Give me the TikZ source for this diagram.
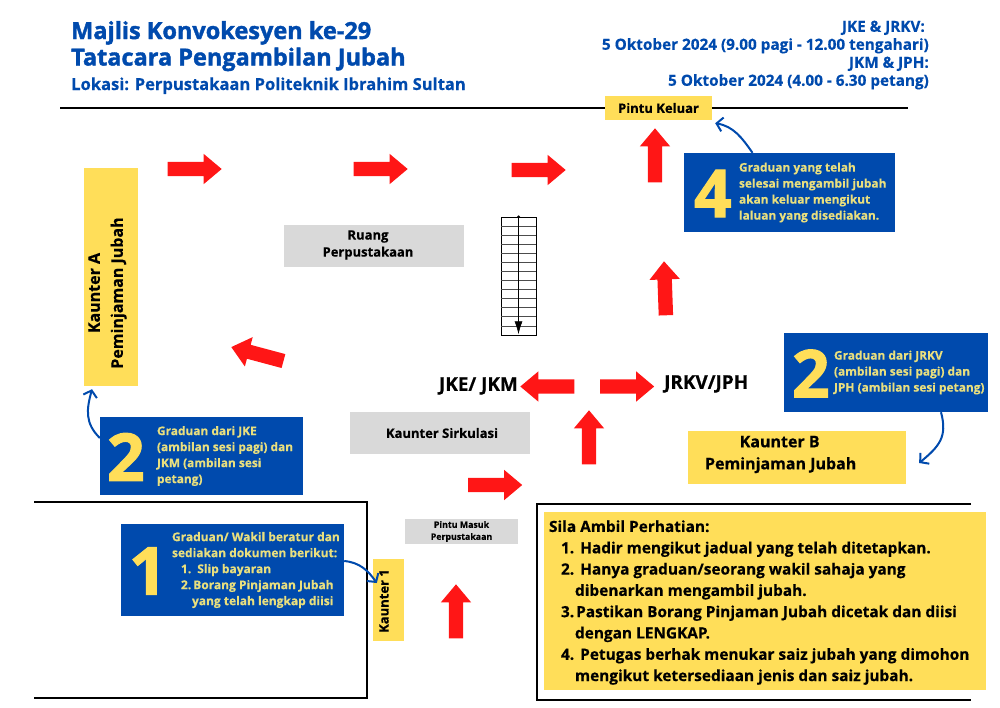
\documentclass[tikz,border=0pt]{standalone}
\usepackage{fontspec}
\setmainfont{Open Sans}[BoldFeatures={FakeBold=0.4}]
\newfontfamily\heavyfont{Open Sans}[BoldFeatures={FakeBold=1.6}]
\usepackage{tikz}
\usetikzlibrary{shapes.arrows, arrows.meta}
\usetikzlibrary{positioning}
\definecolor{uniblue}{HTML}{004AAD}
\definecolor{uniyellow}{HTML}{FFDE59}
\definecolor{softyellow}{HTML}{E9DF7E}
\definecolor{roomgray}{HTML}{D9D9D9}
\definecolor{flowred}{HTML}{FF1616}
\tikzstyle{redarrow} = [single arrow, draw=none, fill=flowred, minimum height=54pt, minimum width=30pt, single arrow head extend=8pt, single arrow tip angle=80, inner sep=7pt, anchor=tip]
\tikzstyle{infobox} = [rectangle, fill=uniblue, inner sep=0pt]
\tikzstyle{counter} = [rectangle, fill=uniyellow, inner sep=0pt, font=\bfseries\fontsize{16}{23}\selectfont, align=center]
\tikzstyle{room} = [rectangle, fill=roomgray, inner sep=0pt]
\tikzstyle{roomtext} = [inner sep=0pt, align=center, font=\bfseries\fontsize{13}{17}\selectfont]
\tikzstyle{bignum} = [inner sep=0pt, text=uniyellow, yshift=-1pt, font=\heavyfont\bfseries\fontsize{66}{66}\selectfont]
\tikzstyle{infotext} = [inner sep=0pt, align=left, text=softyellow, font=\bfseries\fontsize{11.9}{16}\selectfont]
\tikzstyle{headtext} = [inner sep=0pt, text=uniblue, anchor=base west]
\tikzstyle{wall} = [line width=2.5pt, black]
\tikzstyle{bluearrow} = [line width=2pt, uniblue, -{Straight Barb[length=6pt,width=14pt]}]

\begin{document}
\begin{tikzpicture}[x=1pt, y=-1pt]
\useasboundingbox (0,0) rectangle (1000,707);

% Title
\node (title) [headtext, font=\heavyfont\bfseries\fontsize{23.5}{26}\selectfont] at (71,39) {Majlis Konvokesyen ke-29};
\node (subtitle) [headtext, font=\heavyfont\bfseries\fontsize{23.5}{26}\selectfont] at (71,65.5) {Tatacara Pengambilan Jubah};
\node (lokasi) [headtext, font=\bfseries\fontsize{16.55}{20}\selectfont] at (71,90) {Lokasi: Perpustakaan Politeknik Ibrahim Sultan};

% Dates
\node (dates) [inner sep=0pt, text=uniblue, align=right, anchor=north east, font=\bfseries\fontsize{15.3}{18}\selectfont] at (929,20.5) {JKE \& JRKV:\hspace*{4pt}\\5 Oktober 2024 (9.00 pagi - 12.00 tengahari)\\JKM \& JPH:\hspace*{4pt}\\5 Oktober 2024 (4.00 - 6.30 petang)};

% Top wall and exit
\coordinate (walltopl) at (60,108);
\coordinate (walltopr) at (908,108);
\draw [wall] (walltopl) -- (walltopr);
\node (keluar) [counter, minimum width=107pt, minimum height=24pt, font=\bfseries\fontsize{13}{16}\selectfont] at (658.5,108) {Pintu Keluar};

% Queue walls
\coordinate (queuea) at (34,502);
\coordinate (queueb) at (367,502);
\coordinate (queuec) at (367,698);
\coordinate (queued) at (34,698);
\draw [wall] (queuea) -- (queueb) -- (queuec) -- (queued);

% Note walls
\coordinate (notea) at (971,504);
\coordinate (noteb) at (537,504);
\coordinate (notec) at (537,700);
\coordinate (noted) at (971,700);
\draw [wall] (notea) -- (noteb) -- (notec) -- (noted);

% Counters
\node (kaunterA) [counter, minimum width=54pt, minimum height=218pt] at (111,277) {};
\node (kaunterAtxt) [inner sep=0pt, rotate=90, align=center, font=\bfseries\fontsize{16}{23}\selectfont] at (107.5,293) {Kaunter A\\Peminjaman Jubah};
\node (kaunterB) [counter, minimum width=218pt, minimum height=53pt] at (797,457.5) {};
\node (kaunterBtxt) [inner sep=0pt, align=center, font=\bfseries\fontsize{16}{22}\selectfont, right=17pt of kaunterB.west, yshift=3pt] {\hspace*{-2pt}Kaunter B\\Peminjaman Jubah};
\node (kaunterone) [counter, minimum width=31pt, minimum height=82pt] at (388.5,600) {};
\node (kaunteronetxt) [inner sep=0pt, rotate=90, font=\bfseries\fontsize{13}{16}\selectfont] at (384,601) {Kaunter 1};

% Rooms
\node (ruang) [room, minimum width=180pt, minimum height=42pt] at (374,246) {};
\node (ruangtxt) [roomtext, xshift=-6pt, yshift=1pt] at (ruang.center) {Ruang\\Perpustakaan};
\node (sirkulasi) [room, minimum width=180pt, minimum height=42pt] at (440,433) {};
\node (sirkulasitxt) [roomtext, xshift=2pt] at (sirkulasi.center) {Kaunter Sirkulasi};
\node (masuk) [room, minimum width=113pt, minimum height=25pt] at (461.5,531.5) {};
\node (masuktxt) [roomtext, font=\bfseries\fontsize{8.8}{12}\selectfont] at (masuk.center) {Pintu Masuk\\Perpustakaan};

% Stairs
\node (stairs) [rectangle, draw=black, line width=0.5pt, minimum width=35pt, minimum height=118pt, inner sep=0pt] at (518.5,276) {};
\foreach \i in {1,...,12} {
  \draw [line width=0.4pt, black!70] ([yshift=-\i*9.08pt]stairs.north west) -- ([yshift=-\i*9.08pt]stairs.north east);
}
\fill (stairs.north) circle (1.5pt);
\draw [line width=0.6pt, -{Latex[length=13pt,width=8pt]}] (stairs.north) -- ([yshift=1pt]stairs.south);

% Department labels
\node (jkejkm) [inner sep=0pt, anchor=east, font=\bfseries\fontsize{18.9}{20}\selectfont] at (518,386) {JKE/ JKM};
\node (jrkvjph) [inner sep=0pt, anchor=west, font=\bfseries\fontsize{18.9}{20}\selectfont] at (664,384) {JRKV/JPH};

% Red arrows
\node (flowa) [redarrow] at (222,169) {};
\node (flowb) [redarrow] at (408,169) {};
\node (flowc) [redarrow] at (566,170) {};
\node (flowd) [redarrow, rotate=90] at (655,128) {};
\node (flowe) [redarrow, rotate=92] at (664,261) {};
\node (flowf) [redarrow, rotate=165] at (231,347) {};
\node (flowg) [redarrow, rotate=180] at (520,386.5) {};
\node (flowh) [redarrow] at (654.5,386.5) {};
\node (flowi) [redarrow, rotate=90] at (589,410) {};
\node (flowj) [redarrow] at (522.5,485) {};
\node (flowk) [redarrow, rotate=90] at (456,584) {};

% Step 4
\node (infofour) [infobox, minimum width=211pt, minimum height=79pt] at (789.5,192.5) {};
\node (numfour) [bignum, right=10pt of infofour.west] {4};
\node (textfour) [infotext, right=55pt of infofour.west] {Graduan yang telah\\selesai mengambil jubah\\akan keluar mengikut\\laluan yang disediakan.};

% Step 2 left
\node (infotwol) [infobox, minimum width=203pt, minimum height=78pt] at (201.5,456) {};
\node (numtwol) [bignum, right=7pt of infotwol.west] {2};
\node (texttwol) [infotext, right=57pt of infotwol.west] {Graduan dari JKE\\(ambilan sesi pagi) dan\\JKM (ambilan sesi\\petang)};

% Step 2 right
\node (infotwor) [infobox, minimum width=204pt, minimum height=79pt] at (886,372.5) {};
\node (numtwor) [bignum, right=8pt of infotwor.west] {2};
\node (texttwor) [infotext, right=50pt of infotwor.west] {Graduan dari JRKV\\(ambilan sesi pagi) dan\\JPH (ambilan sesi petang)};

% Step 1
\node (infoone) [infobox, minimum width=223pt, minimum height=92pt] at (232.5,570) {};
\node (numone) [bignum, right=8pt of infoone.west] {1};
\node (textone) [infotext, right=51pt of infoone.west, font=\bfseries\fontsize{12}{16}\selectfont] {Graduan/ Wakil beratur dan\\sediakan dokumen berikut:\\\hspace*{9pt}1.\hspace*{6pt}Slip bayaran\\\hspace*{9pt}2.\hspace*{2pt}Borang Pinjaman Jubah\\\hspace*{20pt}yang telah lengkap diisi};

% Notes
\node (notes) [rectangle, fill=uniyellow, minimum width=442pt, minimum height=178pt, inner sep=0pt] at (765,601) {};
\node (notestxt) [inner sep=0pt, align=left, right=5pt of notes.west, yshift=-1.5pt, font=\bfseries\fontsize{15.4}{21.3}\selectfont] {Sila Ambil Perhatian:\\\hspace*{12pt}1.\hspace*{6pt}Hadir mengikut jadual yang telah ditetapkan.\\\hspace*{12pt}2.\hspace*{6pt}Hanya graduan/seorang wakil sahaja yang\\\hspace*{26pt}dibenarkan mengambil jubah.\\\hspace*{12pt}3.\hspace*{2pt}Pastikan Borang Pinjaman Jubah dicetak dan diisi\\\hspace*{26pt}dengan LENGKAP.\\\hspace*{12pt}4.\hspace*{6pt}Petugas berhak menukar saiz jubah yang dimohon\\\hspace*{26pt}mengikut ketersediaan jenis dan saiz jubah.};

% Blue arrows
\draw [bluearrow] ([xshift=-37pt]infofour.north) to [out=125, in=-10] ([xshift=3pt,yshift=-3pt]keluar.south east);
\draw [bluearrow] ([yshift=18pt]infotwol.west) to [out=135, in=-105, looseness=1.1] ([xshift=-19pt,yshift=-3pt]kaunterA.south);
\draw [bluearrow] ([xshift=55pt]infotwor.south) to [out=-75, in=40, looseness=1.2] ([xshift=13pt,yshift=-5.5pt]kaunterB.east);
\draw [bluearrow] ([yshift=9pt]infoone.east) to [out=-5, in=125] ([xshift=4pt,yshift=17pt]kaunterone.west);

\end{tikzpicture}
\end{document}
